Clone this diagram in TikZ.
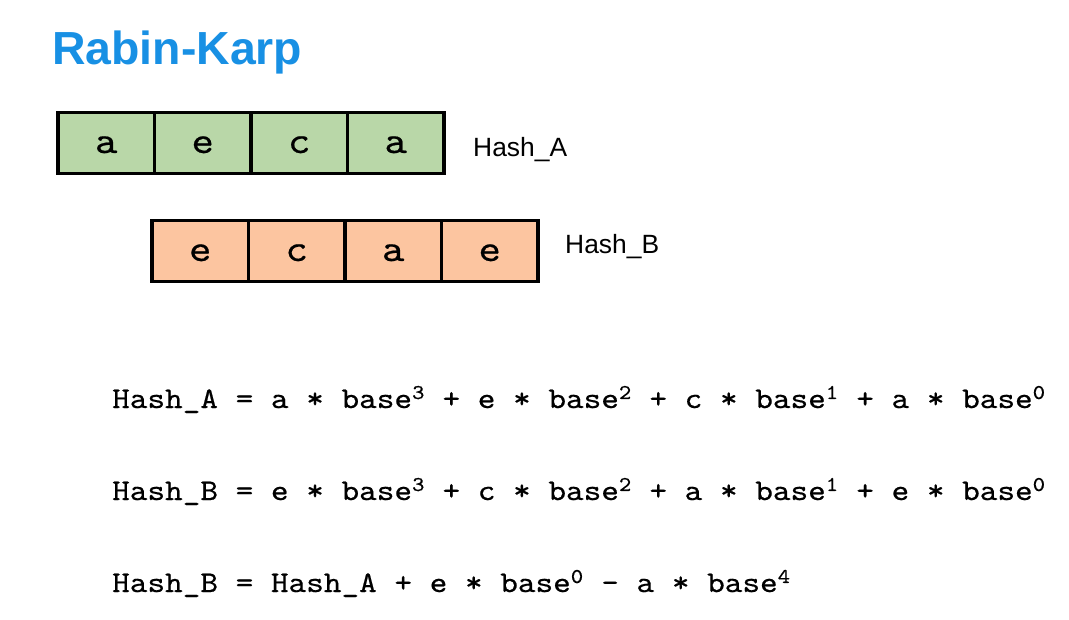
\documentclass[tikz,border=0pt]{standalone}
\usepackage{fontspec}
\setmainfont{Liberation Sans}
\newfontfamily\eqfont{lmmono10-regular.otf}[FakeStretch=1.12,FakeBold=0.5]
\definecolor{titleblue}{HTML}{1890E4}
\definecolor{cellgreen}{HTML}{B9D7A8}
\definecolor{cellorange}{HTML}{FCC5A0}
\tikzset{
  cell/.style={draw=black, line width=3.4pt, minimum width=96.5pt, minimum height=61pt,
    inner sep=0pt, font=\eqfont\fontsize{38}{40}\selectfont, text height=20pt, text depth=0pt},
  gcell/.style={cell, fill=cellgreen},
  ocell/.style={cell, fill=cellorange},
  hashlabel/.style={anchor=west, inner sep=0pt, font=\fontsize{26.4}{30}\selectfont},
  eqline/.style={anchor=base west, inner sep=0pt, font=\eqfont\fontsize{30}{34}\selectfont},
}
\begin{document}
\begin{tikzpicture}[x=1pt,y=-1pt]
\useasboundingbox (0,0) rectangle (1069,619);
\node[anchor=base west, inner sep=0pt, text=titleblue, font=\bfseries\fontsize{46.4}{50}\selectfont] (title) at (52,64) {Rabin-Karp};

\node[gcell] (a1) at (106.25,143) {a};
\node[gcell] (a2) at (202.75,143) {e};
\node[gcell] (a3) at (299.25,143) {c};
\node[gcell] (a4) at (395.75,143) {a};
\node[hashlabel] (la) at (473,150) {Hash\_A};

\node[ocell] (b1) at (200.25,251) {e};
\node[ocell] (b2) at (296.75,251) {c};
\node[ocell] (b3) at (393.25,251) {a};
\node[ocell] (b4) at (489.75,251) {e};
\node[hashlabel] (lb) at (565,247) {Hash\_B};

\node[eqline] (e1) at (112,408) {Hash\_A = a * base\textsuperscript{3} + e * base\textsuperscript{2} + c * base\textsuperscript{1} + a * base\textsuperscript{0}};
\node[eqline] (e2) at (112,500) {Hash\_B = e * base\textsuperscript{3} + c * base\textsuperscript{2} + a * base\textsuperscript{1} + e * base\textsuperscript{0}};
\node[eqline] (e3) at (112,592) {Hash\_B = Hash\_A + e * base\textsuperscript{0} - a * base\textsuperscript{4}};
\end{tikzpicture}
\end{document}
